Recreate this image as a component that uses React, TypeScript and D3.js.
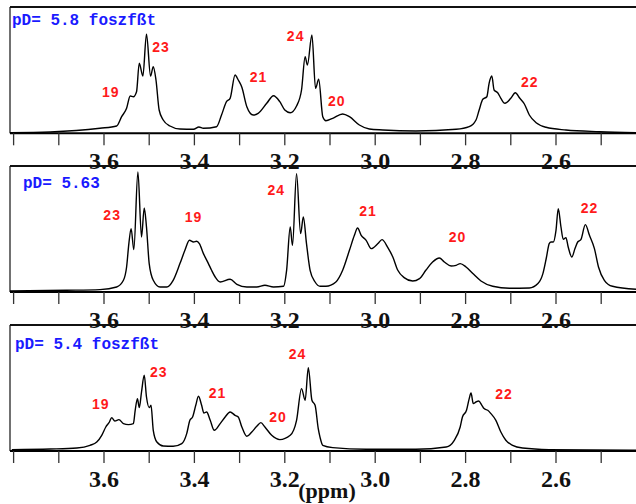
import React from "react";
import * as d3 from "d3";

// ---------- DATA ----------
const majorTickLabels = ["3.6", "3.4", "3.2", "3.0", "2.8", "2.6"];
const minorTicks = [3.8, 3.7, 3.6, 3.5, 3.4, 3.3, 3.2, 3.1, 3.0, 2.9, 2.8, 2.7, 2.6, 2.5];

const titles = ["pD= 5.8 foszfßt", "pD= 5.63", "pD= 5.4 foszfßt"];

// Panel 1 spectrum (ppm, intensity)
const ppm1 = [3.808, 3.719, 3.609, 3.572, 3.561, 3.55, 3.542, 3.535, 3.528, 3.522, 3.514, 3.506, 3.497, 3.491, 3.485, 3.478, 3.469, 3.454, 3.432, 3.402, 3.39, 3.38, 3.351, 3.34, 3.329, 3.321, 3.31, 3.303, 3.295, 3.284, 3.27, 3.259, 3.24, 3.225, 3.211, 3.2, 3.188, 3.174, 3.163, 3.155, 3.15, 3.14, 3.132, 3.125, 3.116, 3.109, 3.094, 3.072, 3.057, 3.035, 3.013, 2.983, 2.91, 2.821, 2.792, 2.777, 2.77, 2.762, 2.753, 2.748, 2.742, 2.737, 2.729, 2.722, 2.713, 2.7, 2.69, 2.68, 2.67, 2.659, 2.644, 2.622, 2.578, 2.504, 2.423];
const int1 = [0.6, 1.3, 5.0, 7.3, 16.6, 25, 37.3, 36.6, 41.6, 70, 57.3, 99, 57.3, 66.6, 53.3, 23.3, 13.3, 7.3, 4.3, 4.0, 6.3, 5, 6.6, 18.3, 31.6, 35, 58.3, 53.3, 46, 26.6, 18.3, 20, 30, 37.6, 31.6, 23.3, 20.6, 27.3, 43.3, 76.6, 68.3, 98.3, 45, 54, 16.6, 12.6, 15, 19.3, 16.6, 8.3, 4.3, 3.3, 2.3, 4, 6.6, 13.3, 23.3, 34, 36.6, 50, 57.3, 43.3, 40.6, 35, 30, 35, 40.6, 35, 29.3, 18.3, 10.6, 6, 3.3, 1.6, 0.6];

// Panel 2 spectrum
const ppm2 = [3.808, 3.683, 3.609, 3.572, 3.557, 3.55, 3.545, 3.54, 3.534, 3.525, 3.517, 3.511, 3.506, 3.5, 3.491, 3.476, 3.461, 3.447, 3.432, 3.421, 3.411, 3.402, 3.395, 3.389, 3.38, 3.369, 3.362, 3.354, 3.343, 3.321, 3.306, 3.284, 3.262, 3.244, 3.225, 3.203, 3.196, 3.188, 3.183, 3.174, 3.165, 3.159, 3.152, 3.144, 3.133, 3.122, 3.109, 3.087, 3.072, 3.057, 3.046, 3.039, 3.031, 3.02, 3.009, 2.994, 2.985, 2.972, 2.961, 2.95, 2.936, 2.917, 2.902, 2.888, 2.873, 2.858, 2.847, 2.832, 2.821, 2.812, 2.799, 2.784, 2.766, 2.74, 2.703, 2.659, 2.64, 2.629, 2.621, 2.615, 2.611, 2.606, 2.6, 2.595, 2.589, 2.584, 2.578, 2.573, 2.565, 2.558, 2.552, 2.545, 2.535, 2.526, 2.515, 2.506, 2.493, 2.475, 2.423];
const int2 = [1.0, 1.7, 2.4, 5, 11.7, 25, 48.4, 63.4, 42.4, 120, 55, 84, 65, 28.4, 11.7, 5, 5, 11.7, 28.4, 41.7, 51.7, 50, 50.7, 48.4, 38.4, 28.4, 21.7, 15, 10, 12.7, 7.7, 5, 5, 6.7, 5, 5.7, 21.7, 65, 46.7, 118.4, 58.4, 75, 48.4, 21.7, 10, 5.7, 5.7, 10, 21.7, 41.7, 56.7, 64, 56.7, 51.7, 43.4, 48.4, 52.4, 44.4, 35, 21.7, 14.4, 11, 13.4, 21.7, 30, 34, 30, 26, 26.7, 28.4, 25, 18.4, 11, 5.7, 3.7, 4, 8.4, 18.4, 35, 48.4, 50, 50, 61.7, 83.4, 65, 52.7, 54.4, 45, 35, 43.4, 50, 52.4, 67.4, 56.7, 43.4, 25, 11.7, 5.7, 2.7];

// Panel 3 spectrum
const ppm3 = [3.804, 3.719, 3.66, 3.631, 3.616, 3.605, 3.596, 3.588, 3.583, 3.576, 3.567, 3.557, 3.546, 3.535, 3.531, 3.526, 3.522, 3.517, 3.511, 3.506, 3.5, 3.496, 3.491, 3.483, 3.469, 3.447, 3.428, 3.417, 3.41, 3.404, 3.397, 3.391, 3.384, 3.379, 3.373, 3.365, 3.356, 3.343, 3.332, 3.321, 3.31, 3.303, 3.295, 3.284, 3.273, 3.262, 3.253, 3.244, 3.229, 3.211, 3.188, 3.174, 3.163, 3.155, 3.148, 3.14, 3.133, 3.126, 3.122, 3.116, 3.094, 3.02, 2.91, 2.843, 2.825, 2.812, 2.807, 2.798, 2.792, 2.788, 2.783, 2.777, 2.771, 2.764, 2.759, 2.751, 2.744, 2.733, 2.722, 2.711, 2.696, 2.674, 2.615, 2.423];
const int3 = [1.4, 2, 3, 5.7, 9, 15.7, 24, 29, 33.4, 30, 31.4, 27.4, 26.4, 27.4, 40.7, 52.4, 43.4, 59, 75.7, 54, 43.4, 45.7, 20.7, 9, 5, 4.7, 7.4, 17.4, 30.7, 34, 45.7, 54.7, 45.7, 38, 39, 30.7, 20.7, 27.4, 34, 39, 35.7, 34, 24, 14.7, 19, 24.7, 28.4, 24, 15.7, 11.4, 15.7, 30.7, 62.4, 50.7, 83.4, 50.7, 45.7, 22.4, 13.7, 5.7, 3.4, 1.7, 1.7, 4, 10.7, 24, 34, 40.7, 52.4, 58, 47.4, 49, 50, 45.7, 42.4, 40.7, 37.4, 30.7, 19, 10.7, 5.7, 3, 1.4, 0.7];

// Peak labels (name, ppm, intensity of label baseline)
const labelNames1 = ["19", "23", "21", "24", "20", "22"];
const labelPpm1 = [3.585, 3.474, 3.258, 3.176, 3.085, 2.658];
const labelInt1 = [36.3, 81.3, 51.3, 92.3, 27.3, 46.3];

const labelNames2 = ["23", "19", "24", "21", "20", "22"];
const labelPpm2 = [3.582, 3.402, 3.219, 3.016, 2.818, 2.526];
const labelInt2 = [71.7, 69.7, 96.7, 75.7, 49.7, 78.7];

const labelNames3 = ["19", "23", "21", "20", "24", "22"];
const labelPpm3 = [3.607, 3.479, 3.349, 3.215, 3.172, 2.715];
const labelInt3 = [41.7, 73.7, 52.7, 29, 91.7, 51.7];

// ---------- LAYOUT ----------
const W = 636;
const H = 504;
const LEFT = 10;
const panelTops = [7, 166, 325];
const panelAxes = [133.3, 292, 451];
const titlePos = [
  { x: 12, y: 25 },
  { x: 23, y: 188 },
  { x: 15, y: 349 },
];

const x = d3.scaleLinear().domain([3.6, 2.6]).range([104, 556]);

type Panel = { ppm: number[]; ints: number[]; names: string[]; lp: number[]; li: number[] };
const panels: Panel[] = [
  { ppm: ppm1, ints: int1, names: labelNames1, lp: labelPpm1, li: labelInt1 },
  { ppm: ppm2, ints: int2, names: labelNames2, lp: labelPpm2, li: labelInt2 },
  { ppm: ppm3, ints: int3, names: labelNames3, lp: labelPpm3, li: labelInt3 },
];

function PanelView({ p, i }: { p: Panel; i: number }) {
  const top = panelTops[i];
  const axis = panelAxes[i];
  const y = d3.scaleLinear().domain([0, axis - top]).range([axis, top]);
  const pts: [number, number][] = p.ppm.map((v, k) => [v, p.ints[k]]);
  const line = d3
    .line<[number, number]>()
    .x((d) => x(d[0]))
    .y((d) => y(d[1]))
    .curve(d3.curveMonotoneX);
  return (
    <g>
      {/* frame */}
      <line x1={LEFT} x2={W + 5} y1={top} y2={top} stroke="#111" strokeWidth={2} />
      <line x1={LEFT} x2={LEFT} y1={top} y2={axis} stroke="#111" strokeWidth={1.2} />
      <path d={line(pts) || ""} fill="none" stroke="#000" strokeWidth={1.4} strokeLinejoin="round" />
      <line x1={LEFT} x2={W + 5} y1={axis} y2={axis} stroke="#000" strokeWidth={2} />
      {minorTicks.map((t) => (
        <line key={t} x1={x(t)} x2={x(t)} y1={axis} y2={axis + 12} stroke="#333" strokeWidth={1.3} />
      ))}
      {majorTickLabels.map((t) => (
        <text
          key={t}
          x={x(+t)}
          y={axis + 36}
          textAnchor="middle"
          fontFamily="'Liberation Serif', 'Times New Roman', serif"
          fontWeight="bold"
          fontSize={24}
          fill="#111"
        >
          {t}
        </text>
      ))}
      <text
        x={titlePos[i].x}
        y={titlePos[i].y}
        fontFamily="'Liberation Mono', 'Courier New', monospace"
        fontWeight="bold"
        fontSize={16}
        fill="#1a1aff"
      >
        {titles[i]}
      </text>
      {p.names.map((n, k) => (
        <text
          key={n}
          x={x(p.lp[k])}
          y={y(p.li[k])}
          textAnchor="middle"
          fontFamily="'Liberation Sans', Arial, sans-serif"
          fontWeight="bold"
          fontSize={14}
          letterSpacing={1}
          fill="#ff1a1a"
        >
          {n}
        </text>
      ))}
    </g>
  );
}

export default function App() {
  return (
    <svg
      width={W}
      height={H}
      viewBox={`0 0 ${W} ${H}`}
      style={{ position: "absolute", left: 0, top: 0, background: "#fff" }}
    >
      <rect x={0} y={0} width={W} height={H} fill="#fff" />
      {panels.map((p, i) => (
        <PanelView key={i} p={p} i={i} />
      ))}
      <text
        x={327}
        y={498}
        textAnchor="middle"
        fontFamily="'Liberation Serif', 'Times New Roman', serif"
        fontWeight="bold"
        fontSize={22}
        fill="#111"
      >
        (ppm)
      </text>
    </svg>
  );
}
